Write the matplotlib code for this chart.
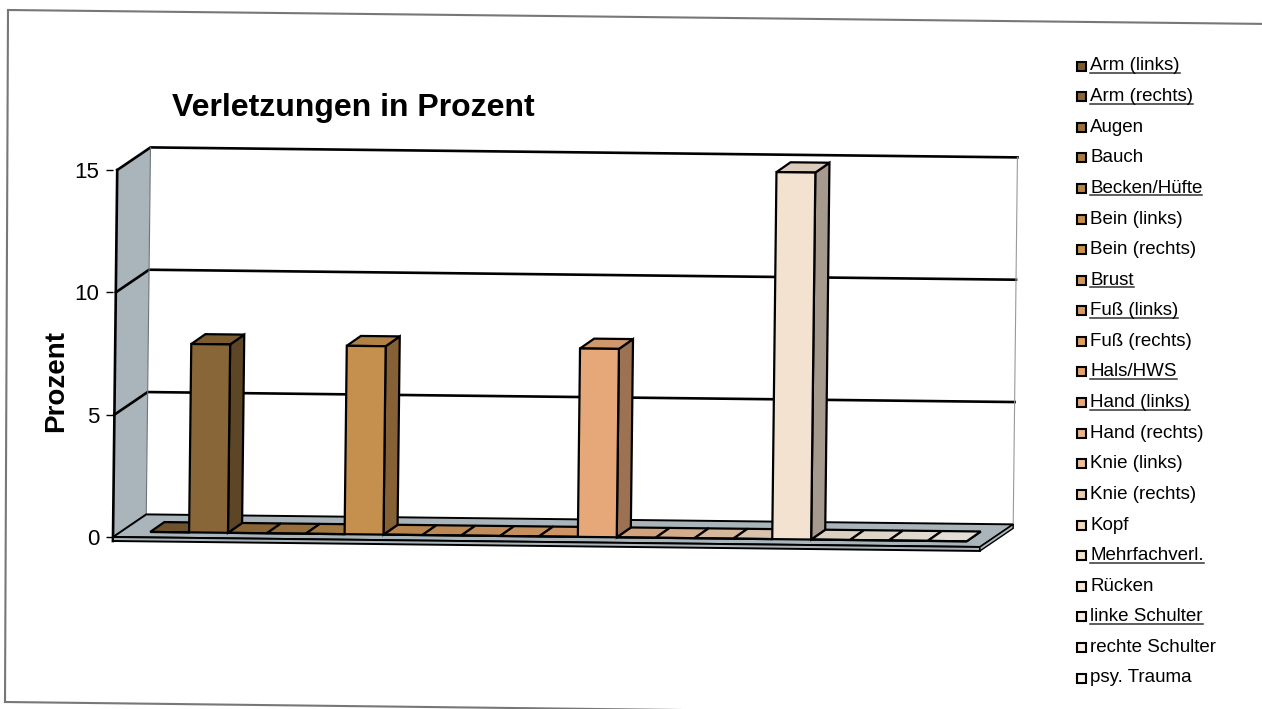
""" Verletzungen in Prozent - 3D-artige Saeulen nachgebaut """

import matplotlib
matplotlib.use('Agg')
import matplotlib.pyplot as plt
import numpy as np
from matplotlib.colors import LinearSegmentedColormap, to_rgb
from matplotlib.lines import Line2D
from matplotlib.patches import Polygon, Rectangle
from matplotlib.transforms import Affine2D

plt.rcParams['font.family'] = ['Liberation Sans', 'DejaVu Sans']

##
# DATA
categories = ['Arm (links)', 'Arm (rechts)', 'Augen', 'Bauch', 'Becken/Hüfte',
              'Bein (links)', 'Bein (rechts)', 'Brust', 'Fuß (links)', 'Fuß (rechts)',
              'Hals/HWS', 'Hand (links)', 'Hand (rechts)', 'Knie (links)',
              'Knie (rechts)', 'Kopf', 'Mehrfachverl.', 'Rücken', 'linke Schulter',
              'rechte Schulter', 'psy. Trauma']
values = [0, 7.7, 0, 0, 0, 7.7, 0, 0, 0, 0, 0, 7.7, 0, 0, 0, 0, 15.0, 0, 0, 0, 0]
underlined = ['Arm (links)', 'Arm (rechts)', 'Becken/Hüfte', 'Brust', 'Fuß (links)',
              'Hals/HWS', 'Hand (links)', 'Mehrfachverl.', 'linke Schulter']
yticks = [0, 5, 10, 15]
title = 'Verletzungen in Prozent'
ylabel = 'Prozent'

W, H = 1262, 709
fx = lambda x: x / W
fy = lambda y: 1 - y / H

# colour ramp dark brown -> cream
cmap = LinearSegmentedColormap.from_list(
    'braun', [(0.0, '#7a5a32'), (0.05, '#8a6737'), (0.25, '#c58f4e'),
              (0.55, '#e6a878'), (0.8, '#f2e2cf'), (1.0, '#fbf6ef')])
n = len(categories)
fronts = [cmap(i / (n - 1)) for i in range(n)]
shade = lambda c, f: tuple(min(1, v * f) for v in to_rgb(c))

fig = plt.figure(figsize=(W / 100, H / 100), dpi=100)
ax = fig.add_axes([fx(113), fy(537), 867 / W, 367 / H])
xl, xr = -1.25, 21.05
ax.set_xlim(xl, xr)
ax.set_ylim(0, 15)

px_x = 867 / (xr - xl)
px_y = 367 / 15.0
off = lambda a, b: (a / px_x, b / px_y)
D = off(33, 23)      # floor / wall depth
F = off(8, 5.5)      # bar front offset
B = off(14, 10)      # bar depth

# scan is slightly tilted
tr = ax.transData + Affine2D().rotate_deg_around(113, H - 537, -0.66)


def poly(pts, **kw):
    p = Polygon(pts, closed=True, transform=tr, clip_on=False, **kw)
    ax.add_patch(p)
    return p


def line(xs, ys, **kw):
    ax.add_line(Line2D(xs, ys, transform=tr, clip_on=False, **kw))


wall = '#a9b5ba'
# left wall, back wall, floor
poly([(xl, 0), (xl, 15), (xl + D[0], 15 + D[1]), (xl + D[0], D[1])],
     facecolor=wall, edgecolor='none', zorder=1)
poly([(xl + D[0], D[1]), (xr + D[0], D[1]), (xr + D[0], 15 + D[1]), (xl + D[0], 15 + D[1])],
     facecolor='white', edgecolor='none', zorder=1)
t = 4 / px_y
poly([(xl, 0), (xr, 0), (xr + D[0], D[1]), (xl + D[0], D[1])],
     facecolor=wall, edgecolor='black', linewidth=1.4, zorder=2)
poly([(xl, 0), (xr, 0), (xr, -t), (xl, -t)],
     facecolor=wall, edgecolor='black', linewidth=1.4, zorder=2)
poly([(xr, 0), (xr + D[0], D[1]), (xr + D[0], D[1] - t), (xr, -t)],
     facecolor=wall, edgecolor='black', linewidth=1.0, zorder=2)

# grid lines on walls
for v in yticks[1:]:
    line([xl, xl + D[0], xr + D[0]], [v, v + D[1], v + D[1]],
         color='black', linewidth=1.9, zorder=1.5)
line([xl, xl], [-t, 15], color='black', linewidth=1.9, zorder=1.5)
line([xl + D[0], xl + D[0]], [D[1], 15 + D[1]], color='#6d7578', linewidth=0.8, zorder=1.5)
line([xr + D[0], xr + D[0]], [D[1], 15 + D[1]], color='#9a9a9a', linewidth=0.8, zorder=1.5)

# bars
x = np.arange(n)
bars = ax.bar(x + F[0], values, width=1.0, bottom=F[1], color=fronts,
              edgecolor='black', linewidth=1.6, transform=tr, clip_on=False)
for i, (rect, v) in enumerate(zip(bars, values)):
    z = 3 if v == 0 else 4 + i * 0.01
    a, b = x[i] + F[0] - 0.5, x[i] + F[0] + 0.5
    y0, y1 = F[1], F[1] + v
    rect.set_zorder(z + 0.003)
    poly([(b, y0), (b, y1), (b + B[0], y1 + B[1]), (b + B[0], y0 + B[1])],
         facecolor=shade(fronts[i], 0.68), edgecolor='black', linewidth=1.6, zorder=z)
    poly([(a, y1), (b, y1), (b + B[0], y1 + B[1]), (a + B[0], y1 + B[1])],
         facecolor=shade(fronts[i], 0.9), edgecolor='black', linewidth=1.6, zorder=z + 0.001)

ax.set_xlim(xl, xr)
ax.set_ylim(0, 15)
for s in ax.spines.values():
    s.set_visible(False)
ax.patch.set_visible(False)
ax.set_xticks([])
ax.set_yticks(yticks)
ax.tick_params(axis='y', length=5, width=1, pad=5, labelsize=16)

fig.text(fx(172), fy(108), title, fontsize=23, fontweight='bold', ha='left', va='center')
fig.text(fx(56), fy(381), ylabel, fontsize=20, fontweight='bold', rotation=90,
         ha='center', va='center')

# legend
texts = []
for i, name in enumerate(categories):
    yc = 66 + i * 30.6
    fig.patches.append(Rectangle((fx(1077), fy(yc + 4.5)), 9 / W, 9 / H, transform=fig.transFigure,
                                 facecolor=fronts[i], edgecolor='black', linewidth=1.5))
    texts.append(fig.text(fx(1090), fy(yc), name, fontsize=13.5, va='center', ha='left'))

renderer = fig.canvas.get_renderer()
for tx in texts:
    if tx.get_text() in underlined:
        bb = tx.get_window_extent(renderer)
        fig.add_artist(Line2D([bb.x0 / W, bb.x1 / W], [(bb.y0 + 1.5) / H] * 2,
                              transform=fig.transFigure, color='#333333', linewidth=1.1))

# outer frame of the scanned chart
fig.add_artist(Line2D([fx(8), fx(W + 10)], [fy(10), fy(24)], transform=fig.transFigure,
                      color='#777777', linewidth=1.5))
fig.add_artist(Line2D([fx(8), fx(5)], [fy(10), fy(702)], transform=fig.transFigure,
                      color='#777777', linewidth=1.5))
fig.add_artist(Line2D([fx(5), fx(W + 10)], [fy(702), fy(717)], transform=fig.transFigure,
                      color='#777777', linewidth=1.5))

fig.savefig('out.png', dpi=100)
